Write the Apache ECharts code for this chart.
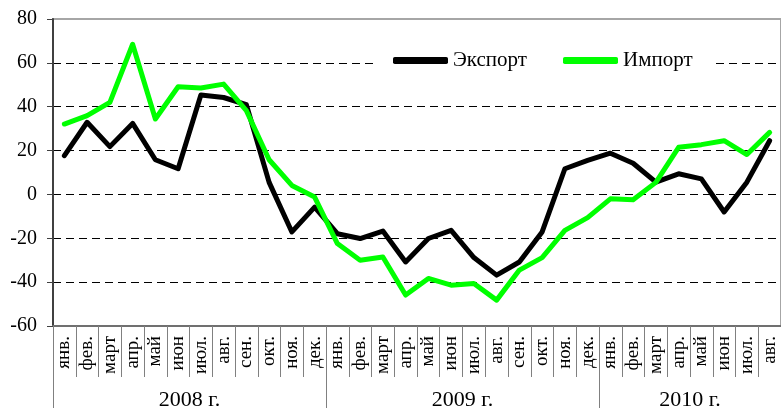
<!DOCTYPE html>
<html>
<head>
<meta charset="utf-8">
<script src="https://cdn.jsdelivr.net/npm/echarts@6/dist/echarts.min.js"></script>
<style>
  html, body { margin: 0; padding: 0; background: #fff; }
  #chart1 { width: 781px; height: 408px; }
</style>
</head>
<body>
<div id="chart1"></div>
<script>
// месяцы, 2008-01 .. 2010-08
var months = [
    'янв.', 'фев.', 'март', 'апр.', 'май', 'июн', 'июл.', 'авг.', 'сен.', 'окт.', 'ноя.', 'дек.',
    'янв.', 'фев.', 'март', 'апр.', 'май', 'июн', 'июл.', 'авг.', 'сен.', 'окт.', 'ноя.', 'дек.',
    'янв.', 'фев.', 'март', 'апр.', 'май', 'июн', 'июл.', 'авг.'
];
// годовые подписи на границах месяцев (33 позиции)
var yearLabels = [
    '', '', '', '', '', '', '2008 г.', '', '', '', '', '',
    '', '', '', '', '', '', '2009 г.', '', '', '', '', '',
    '', '', '', '', '2010 г.', '', '', '', ''
];
var yearBounds = [0, 12, 24, 32];

var exportData = [17.7, 32.9, 21.8, 32.4, 15.8, 11.7, 45.3, 44.2, 40.9, 5.5, -17.1, -5.8,
    -17.9, -20.1, -16.7, -30.8, -20.1, -16.4, -28.8, -36.8, -30.8, -17.1, 11.7, 15.5,
    18.8, 14.2, 5.6, 9.4, 7.1, -8.0, 5.6, 24.5];
var importData = [32.1, 35.9, 42.0, 68.5, 34.4, 49.1, 48.5, 50.3, 38.2, 15.8, 4.1, -1.2,
    -22.4, -30.0, -28.5, -45.9, -38.3, -41.4, -40.6, -48.2, -34.5, -28.8, -16.4, -10.6,
    -2.0, -2.4, 5.5, 21.5, 22.7, 24.5, 18.2, 28.3];

var yTicks = { min: -60, max: 80, step: 20 };

var font = "'Liberation Serif', 'Times New Roman', 'DejaVu Serif', serif";

var myChart = echarts.init(document.getElementById('chart1'));

var option = {
    animation: false,
    backgroundColor: '#fff',
    grid: {
        left: 53,
        right: 0,
        top: 19,
        bottom: 82,
        show: true,
        borderColor: '#a6a6a6',
        borderWidth: 2,
        outerBoundsMode: 'none'
    },
    legend: {
        left: 378,
        top: 50,
        itemWidth: 55,
        itemHeight: 7,
        itemGap: 36,
        icon: 'roundRect',
        backgroundColor: '#fff',
        padding: [0, 21, 0, 15],
        textStyle: {
            fontFamily: font,
            fontSize: 21,
            color: '#000'
        }
    },
    xAxis: [{
        type: 'category',
        data: months,
        position: 'bottom',
        boundaryGap: true,
        axisLine: { onZero: false, lineStyle: { color: '#707070', width: 2 } },
        axisTick: {
            show: true,
            interval: 0,
            length: 51,
            lineStyle: { color: '#808080', width: 1 }
        },
        axisLabel: {
            interval: 0,
            rotate: 90,
            margin: 10,
            fontFamily: font,
            fontSize: 19,
            color: '#000'
        },
        splitLine: { show: false }
    }, {
        type: 'category',
        data: yearLabels,
        position: 'bottom',
        offset: 0,
        boundaryGap: false,
        axisLine: { show: false, onZero: false },
        axisTick: {
            show: true,
            length: 84,
            interval: function (index) { return yearBounds.indexOf(index) >= 0; },
            lineStyle: { color: '#808080', width: 1 }
        },
        axisLabel: {
            interval: 0,
            margin: 63,
            fontFamily: font,
            fontSize: 22,
            color: '#000'
        },
        splitLine: { show: false }
    }],
    yAxis: {
        type: 'value',
        min: yTicks.min,
        max: yTicks.max,
        interval: yTicks.step,
        axisLine: { show: true, lineStyle: { color: '#404040', width: 2 } },
        axisTick: { show: true, length: 6, lineStyle: { color: '#404040' } },
        axisLabel: {
            margin: 16,
            fontFamily: font,
            fontSize: 20,
            color: '#000'
        },
        splitLine: {
            show: true,
            lineStyle: {
                color: ['transparent', '#000', '#000', '#000', '#000', '#000', '#000', 'transparent'],
                type: [8, 5],
                width: 1
            }
        }
    },
    series: [{
        name: 'Экспорт',
        type: 'line',
        data: exportData,
        symbol: 'none',
        lineStyle: { color: '#000', width: 5, cap: 'round', join: 'round' },
        itemStyle: { color: '#000' }
    }, {
        name: 'Импорт',
        type: 'line',
        data: importData,
        symbol: 'none',
        lineStyle: { color: '#00ff00', width: 5, cap: 'round', join: 'round' },
        itemStyle: { color: '#00ff00' }
    }]
};

myChart.setOption(option);
</script>
</body>
</html>
